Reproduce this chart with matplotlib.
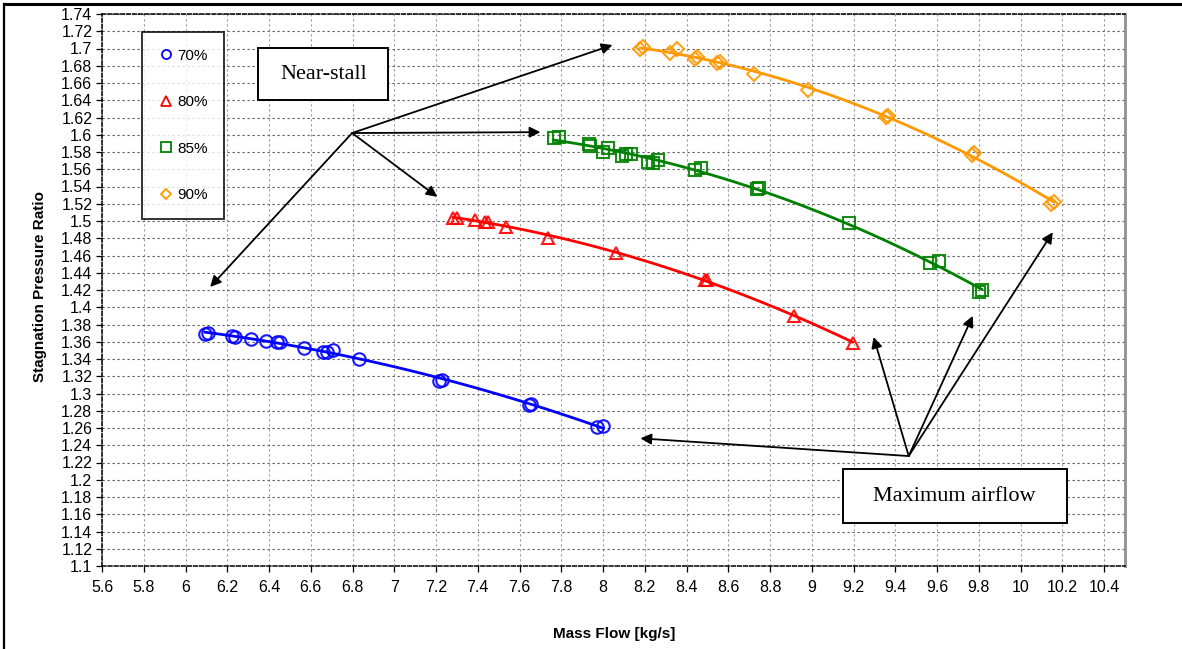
import numpy as np
import matplotlib
matplotlib.use("Agg")
import matplotlib.pyplot as plt
from matplotlib.lines import Line2D
from matplotlib.patches import Rectangle

plt.rcParams["font.family"] = ["Liberation Sans", "DejaVu Sans"]

# %% data (mass flow kg/s, stagnation pressure ratio)
flow_70 = [6.094, 6.108, 6.223, 6.238, 6.314, 6.386, 6.439, 6.453, 6.568, 6.659,
           6.679, 6.707, 6.832, 7.216, 7.230, 7.647, 7.657, 7.973, 8.002]
pr_70 = [1.369, 1.370, 1.367, 1.366, 1.363, 1.361, 1.360, 1.360, 1.353, 1.348,
         1.348, 1.350, 1.340, 1.315, 1.316, 1.287, 1.288, 1.261, 1.262]

flow_80 = [7.283, 7.302, 7.388, 7.436, 7.450, 7.537, 7.738, 8.064, 8.486, 8.500,
           8.913, 9.195]
pr_80 = [1.504, 1.504, 1.501, 1.499, 1.499, 1.493, 1.480, 1.463, 1.432, 1.432,
         1.390, 1.359]

flow_85 = [7.767, 7.791, 7.935, 7.939, 8.002, 8.026, 8.093, 8.112, 8.136, 8.213,
           8.237, 8.265, 8.438, 8.471, 8.735, 8.745, 9.176, 9.564, 9.608, 9.799,
           9.814]
pr_85 = [1.596, 1.597, 1.589, 1.587, 1.580, 1.585, 1.575, 1.578, 1.578, 1.568,
         1.567, 1.571, 1.559, 1.561, 1.537, 1.538, 1.498, 1.451, 1.454, 1.418,
         1.420]

flow_90 = [8.179, 8.189, 8.323, 8.352, 8.438, 8.448, 8.548, 8.558, 8.721, 8.980,
           9.354, 9.363, 9.766, 9.775, 10.145, 10.159]
pr_90 = [1.699, 1.702, 1.695, 1.699, 1.688, 1.690, 1.683, 1.684, 1.670, 1.652,
         1.621, 1.622, 1.577, 1.579, 1.520, 1.522]

speeds = ["70%", "80%", "85%", "90%"]
colors = ["#0000FF", "#FF0000", "#008000", "#FF9900"]
markers = ["o", "^", "s", "D"]
x_ticks = np.round(np.arange(5.6, 10.41, 0.2), 1)
y_ticks = np.round(np.arange(1.10, 1.741, 0.02), 2)

series = [(flow_70, pr_70), (flow_80, pr_80), (flow_85, pr_85), (flow_90, pr_90)]

# %% figure
fig = plt.figure(figsize=(11.82, 6.49), dpi=100)
ax = fig.add_axes([102 / 1182, 1 - 566 / 649, 1023 / 1182, 552 / 649])

for (fx, pr), c, m in zip(series, colors, markers):
    fx = np.asarray(fx)
    pr = np.asarray(pr)
    # quadratic trend line, as in the original spreadsheet chart
    coef = np.polyfit(fx, pr, 2)
    xs = np.linspace(fx.min(), fx.max(), 100)
    ax.plot(xs, np.polyval(coef, xs), color=c, lw=2, zorder=3)
    ax.plot(fx, pr, linestyle="none", marker=m, mfc="none", mec=c,
            ms=9 if m != "D" else 7.5, mew=1.5, alpha=0.9, zorder=4)

ax.set_xlim(5.6, 10.5)
ax.set_ylim(1.10, 1.74)
ax.set_xticks(x_ticks)
ax.set_xticklabels([f"{v:g}" for v in x_ticks])
ax.set_yticks(y_ticks)
ax.set_yticklabels([f"{v:g}" for v in y_ticks])
ax.tick_params(labelsize=11.5, length=4, width=0.9, color="black", pad=6)
ax.tick_params(axis="y", pad=3)

ax.grid(axis="y", color="#5a5a5a", lw=0.8, dashes=(2, 2.5))
ax.grid(axis="x", color="#9a9a9a", lw=0.8, dashes=(2, 2.5))
ax.set_axisbelow(True)
for side in ("left", "bottom", "top"):
    ax.spines[side].set_color("black")
    ax.spines[side].set_linewidth(1.1)
    ax.spines[side].set_linestyle((0, (2.5, 1.5)))
ax.spines["right"].set_color("#909090")
ax.spines["right"].set_linewidth(2)

fig.text(40 / 1182, 1 - 287 / 649, "Stagnation Pressure Ratio", rotation=90,
         ha="center", va="center", fontsize=11, fontweight="bold")
fig.text(614 / 1182, 1 - 634 / 649, "Mass Flow [kg/s]", ha="center",
         va="center", fontsize=11, fontweight="bold")

# legend
handles = [Line2D([], [], linestyle="none", marker=m, mfc="none", mec=c,
                  ms=6.5 if m != "D" else 5.5, mew=1.3)
           for c, m in zip(colors, markers)]
leg = ax.legend(handles, speeds, loc="upper left",
                bbox_to_anchor=(40 / 1023, 1 - 18 / 552), borderaxespad=0,
                fontsize=11, frameon=True, fancybox=False, edgecolor="black",
                labelspacing=2.12, borderpad=1.1, handlelength=0.9,
                handletextpad=0.3)
leg.get_frame().set_linewidth(1.4)
leg.set_zorder(6)

# annotation boxes
serif = ["Liberation Serif", "DejaVu Serif"]
ax.add_patch(Rectangle((6.348, 1.640), 0.623, 0.0606, fill=True, fc="white",
                       ec="black", lw=1.4, zorder=6))
ax.text(6.66, 1.670, "Near-stall", family=serif, fontsize=16, ha="center",
        va="center", zorder=7)
ax.add_patch(Rectangle((9.147, 1.150), 1.074, 0.0626, fill=True, fc="white",
                       ec="black", lw=1.4, zorder=6))
ax.text(9.684, 1.181, "Maximum airflow", family=serif, fontsize=16,
        ha="center", va="center", zorder=7)

arrow = dict(arrowstyle="-|>", mutation_scale=16, lw=1.3, color="black",
             shrinkA=0, shrinkB=0)
for tip in [(8.045, 1.704), (7.70, 1.603), (7.206, 1.528), (6.118, 1.4235)]:
    ax.annotate("", xy=tip, xytext=(6.798, 1.602), arrowprops=arrow, zorder=5)
for tip in [(8.179, 1.248), (9.296, 1.3655), (9.771, 1.390), (10.154, 1.487)]:
    ax.annotate("", xy=tip, xytext=(9.464, 1.2275), arrowprops=arrow, zorder=5)

# outer frame (top and left edges visible in the original)
fig.add_artist(Line2D([4 / 1182, 1], [1 - 4 / 649, 1 - 4 / 649], color="black",
                      lw=2.2, transform=fig.transFigure))
fig.add_artist(Line2D([4 / 1182, 4 / 1182], [0, 1 - 4 / 649], color="black",
                      lw=1.6, transform=fig.transFigure))

fig.savefig("out.png", dpi=100)
